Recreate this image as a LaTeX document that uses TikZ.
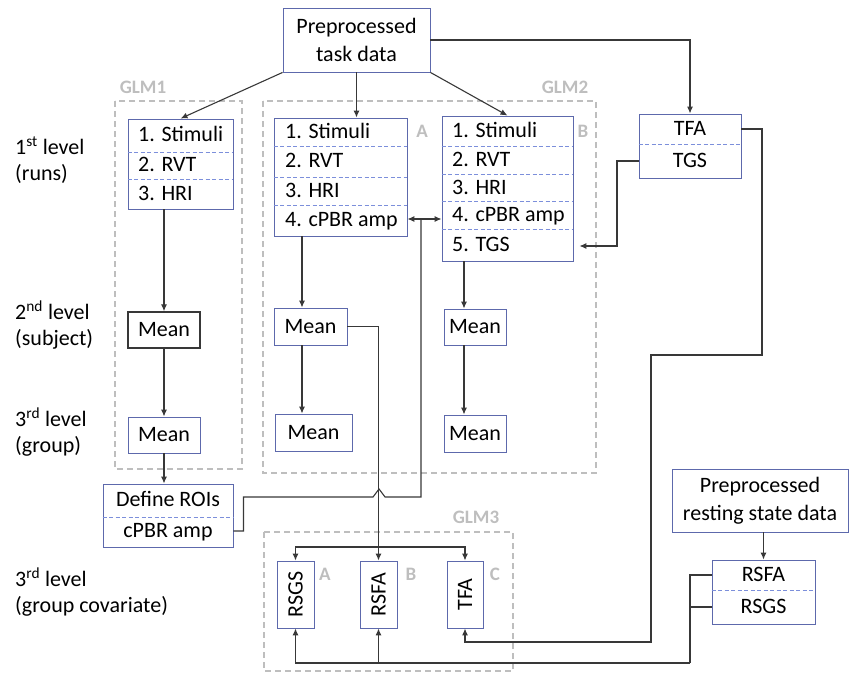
\documentclass[tikz,border=0pt]{standalone}
\usepackage{fontspec}
\setmainfont{Carlito}
\usepackage{tikz}
\usetikzlibrary{arrows.meta}
\definecolor{BoxBlue}{HTML}{5D69AC}
\definecolor{RowBlue}{HTML}{7C8FDB}
\definecolor{GroupGray}{HTML}{BEBEBE}
\definecolor{LineDark}{HTML}{383838}

\begin{document}
\begin{tikzpicture}[x=1pt,y=-1pt,
  box/.style={draw=BoxBlue,line width=0.9pt,fill=white,inner sep=0pt,align=center,font=\fontsize{22}{28}\selectfont},
  row/.style={inner sep=0pt,text height=15pt,text depth=3pt,font=\fontsize{22}{26}\selectfont},
  rowline/.style={draw=RowBlue,line width=0.8pt,dash pattern=on 4pt off 2.5pt},
  glm/.style={draw=GroupGray,line width=1.3pt,dash pattern=on 6pt off 4pt},
  glmlabel/.style={text=GroupGray,inner sep=0pt,font=\fontsize{19}{22}\selectfont\bfseries},
  level/.style={anchor=west,align=left,inner sep=0pt,font=\fontsize{22}{26}\selectfont},
  conn/.style={draw=LineDark,line width=1.1pt},
  arr/.style={conn,-{Latex[length=7pt,width=6pt]}}]
\useasboundingbox (0,0) rectangle (850,674);

% group frames
\draw[glm] (115,101) rectangle (242,469);
\draw[glm] (263,101) rectangle (596,473);
\draw[glm] (264,532) rectangle (513,671);
\node[glmlabel] (glmA) at (143,87) {GLM1};
\node[glmlabel] (glmB) at (565,87) {GLM2};
\node[glmlabel] (glmC) at (476,517) {GLM3};
\node[glmlabel] (labA) at (422,131) {A};
\node[glmlabel] (labB) at (583,131) {B};
\node[glmlabel] (labA3) at (325,574) {A};
\node[glmlabel] (labB3) at (411,574) {B};
\node[glmlabel] (labC3) at (495,574) {C};

% level labels
\node[level] (lvlA) at (15,160) {1\textsuperscript{st} level\\(runs)};
\node[level] (lvlB) at (15,325) {2\textsuperscript{nd} level\\(subject)};
\node[level] (lvlC) at (15,432) {3\textsuperscript{rd} level\\(group)};
\node[level] (lvlD) at (15,592) {3\textsuperscript{rd} level\\(group covariate)};

% input data
\node[box,minimum width=147,minimum height=64] (task) at (356.5,40) {Preprocessed\\task data};
\node[box,minimum width=176,minimum height=63] (rest) at (760,500.5) {Preprocessed\\resting state data};

% first level
\node[box,minimum width=105,minimum height=90] (runsG) at (180.5,164) {};
\node[row,anchor=west] (gS) at (138,135) {1. Stimuli};
\node[row,anchor=west] (gR) at (138,165) {2. RVT};
\node[row,anchor=west] (gH) at (138,194) {3. HRI};
\foreach \y in {152,179} \draw[rowline] (runsG.west |- 0,\y) -- (runsG.east |- 0,\y);

\node[box,minimum width=133,minimum height=118] (runsA) at (340.5,177) {};
\node[row,anchor=west] (aS) at (285,132) {1. Stimuli};
\node[row,anchor=west] (aR) at (285,161) {2. RVT};
\node[row,anchor=west] (aH) at (285,191) {3. HRI};
\node[row,anchor=west] (aC) at (285,220) {4. cPBR amp};
\foreach \y in {146,177,205} \draw[rowline] (runsA.west |- 0,\y) -- (runsA.east |- 0,\y);

\node[box,minimum width=131,minimum height=145] (runsB) at (507.5,188.5) {};
\node[row,anchor=west] (bS) at (452,131) {1. Stimuli};
\node[row,anchor=west] (bR) at (452,160) {2. RVT};
\node[row,anchor=west] (bH) at (452,188) {3. HRI};
\node[row,anchor=west] (bC) at (452,215) {4. cPBR amp};
\node[row,anchor=west] (bT) at (452,245) {5. TGS};
\foreach \y in {146,174,201,229} \draw[rowline] (runsB.west |- 0,\y) -- (runsB.east |- 0,\y);

\node[box,minimum width=102,minimum height=64] (tf) at (690,146) {};
\node[row] (tfT) at (690,129) {TFA};
\node[row] (tgT) at (690,161) {TGS};
\draw[rowline] (tf.west |- 0,144) -- (tf.east |- 0,144);

% second and third level
\node[box,draw=LineDark,line width=1.4pt,minimum width=72,minimum height=36] (meanG2) at (164,330) {Mean};
\node[box,minimum width=72,minimum height=36] (meanG3) at (164,435) {Mean};
\node[box,minimum width=73,minimum height=37] (meanA2) at (310.5,326.5) {Mean};
\node[box,minimum width=77,minimum height=37] (meanA3) at (313.5,432.5) {Mean};
\node[box,minimum width=62,minimum height=36] (meanB2) at (475,327) {Mean};
\node[box,minimum width=62,minimum height=37] (meanB3) at (475,433.5) {Mean};

\node[box,minimum width=130,minimum height=63] (roi) at (168,515.5) {};
\node[row] (roiD) at (168,500) {Define ROIs};
\node[row] (roiC) at (168,531) {cPBR amp};
\draw[rowline] (roi.west |- 0,517) -- (roi.east |- 0,517);

% resting state measures
\node[box,minimum width=103,minimum height=64] (rs) at (763.5,592) {};
\node[row] (rsF) at (763.5,575) {RSFA};
\node[row] (rsG) at (763.5,607) {RSGS};
\draw[rowline] (rs.west |- 0,590) -- (rs.east |- 0,590);

% group covariate models
\node[box,rotate=90,minimum width=67,minimum height=37] (covA) at (295.5,594.5) {RSGS};
\node[box,rotate=90,minimum width=67,minimum height=37] (covB) at (378.5,594.5) {RSFA};
\node[box,rotate=90,minimum width=67,minimum height=36] (covC) at (465,594.5) {TFA};

% helper points
\coordinate (colA) at (302,0);
\coordinate (colB) at (464,0);
\coordinate (jn) at (421,219);
\coordinate (hop) at (379,497);
\coordinate (split) at (378.5,547);
\coordinate (tA) at (762,355);
\coordinate (tB) at (651,642);
\coordinate (tg) at (617,246);
\coordinate (rj) at (690,663);

% connectors
\draw[arr] (task.south west) -- (runsG.north);
\draw[arr] (task.south) -- (task.south |- runsA.north);
\draw[arr] (task.south east) -- (runsB.north);
\draw[arr] (task.east) -| (tf.north);

\draw[arr] (runsG.south -| meanG2.north) -- (meanG2.north);
\draw[arr] (meanG2) -- (meanG3);
\draw[arr] (meanG3.south) -- (meanG3.south |- roi.north);
\draw[arr] (runsA.south -| colA) -- (meanA2.north -| colA);
\draw[arr] (meanA2.south -| colA) -- (meanA3.north -| colA);
\draw[arr] (runsB.south -| colB) -- (meanB2.north -| colB);
\draw[arr] (meanB2.south -| colB) -- (meanB3.north -| colB);

\draw[conn] (roi.east |- roiC) -- ++(10,0) |- ([xshift=-6pt]hop) -- ++(6,-8) -- ++(6,8) -| (jn);
\draw[arr] (jn) -- (runsA.east |- jn);
\draw[arr] (jn) -- (runsB.west |- jn);

\draw[arr] (meanA2.east) -| (covB.east);
\draw[arr] (split) -| (covA.east);
\draw[arr] (split) -| (covC.east);

\draw[arr] (tf.east |- tfT) -| (tA) -| (tB) -| (covC.west);
\draw[arr,shorten >=6pt] (tf.west |- tgT) -| (tg) -- (runsB.east |- tg);

\draw[arr] (rs.north |- rest.south) -- (rs.north);
\draw[conn] (rs.west |- rsF) -| (rj);
\draw[conn] (rs.west |- rsG) -- (rj |- rsG);
\draw[arr] (rj) -| (covA.west);
\draw[arr] (covB.west |- rj) -- (covB.west);
\end{tikzpicture}
\end{document}
